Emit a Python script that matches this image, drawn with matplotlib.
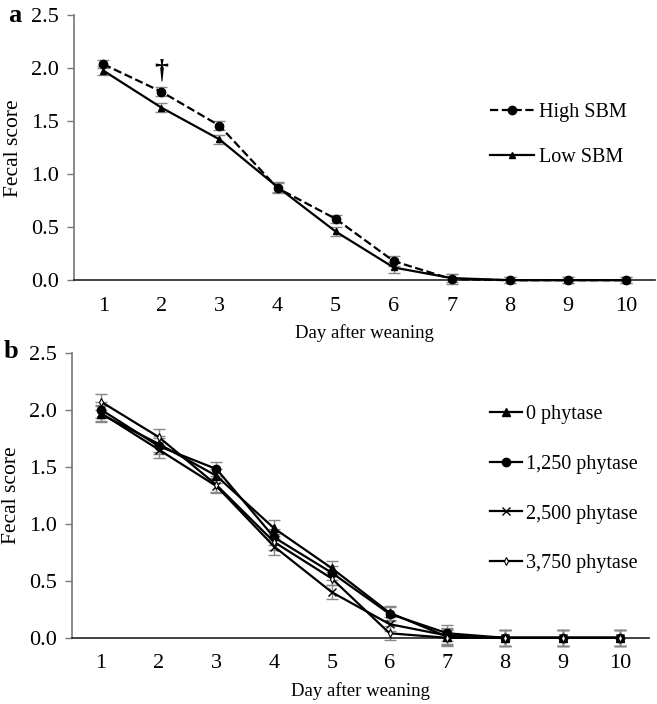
import numpy as np
import matplotlib
matplotlib.use('Agg')
import matplotlib.pyplot as plt

plt.rcParams['font.family'] = ['Liberation Serif', 'DejaVu Serif']

# Panel a data
days = [1, 2, 3, 4, 5, 6, 7, 8, 9, 10]
high_sbm = [2.04, 1.78, 1.46, 0.87, 0.58, 0.18, 0.01, 0.0, 0.0, 0.0]
high_sbm_err = [0.04, 0.04, 0.04, 0.05, 0.04, 0.05, 0.05, 0.03, 0.03, 0.03]
low_sbm = [1.98, 1.63, 1.33, 0.88, 0.46, 0.12, 0.02, 0.0, 0.0, 0.0]
low_sbm_err = [0.04, 0.04, 0.04, 0.05, 0.04, 0.05, 0.04, 0.03, 0.03, 0.03]

# Panel b data
phy_labels = ['0 phytase', '1,250 phytase', '2,500 phytase', '3,750 phytase']
phy_markers = ['^', 'o', 'x', 'd']
phy_0 = [1.96, 1.70, 1.42, 0.96, 0.61, 0.22, 0.01, 0.0, 0.0, 0.0]
phy_1250 = [2.00, 1.68, 1.48, 0.88, 0.57, 0.21, 0.04, 0.0, 0.0, 0.0]
phy_2500 = [1.97, 1.65, 1.33, 0.80, 0.40, 0.12, 0.02, 0.0, 0.0, 0.0]
phy_3750 = [2.07, 1.76, 1.34, 0.84, 0.52, 0.04, 0.00, 0.0, 0.0, 0.0]
phy_err = [0.07, 0.07, 0.06, 0.07, 0.06, 0.06, 0.07, 0.07, 0.07, 0.07]

yticks = [0.0, 0.5, 1.0, 1.5, 2.0, 2.5]
TICK_FS = 16
XLAB_FS = 13.5
YLAB_FS = 15.5
LEG_FS = 14.5

fig = plt.figure(figsize=(6.57, 7.04), dpi=100)
ax_a = fig.add_axes([0.113, 0.602, 0.884, 0.376])
ax_b = fig.add_axes([0.110, 0.094, 0.878, 0.405])


def style_axis(ax):
    ax.set_xlim(0.5, 10.5)
    ax.set_ylim(0, 2.5)
    ax.set_yticks(yticks)
    ax.set_yticklabels(['%.1f' % t for t in yticks])
    ax.set_xticks(days)
    ax.tick_params(axis='x', length=0, labelsize=TICK_FS, pad=12)
    ax.tick_params(axis='y', length=5, width=1, color='#777777', labelsize=TICK_FS, pad=6)
    for s in ['top', 'right']:
        ax.spines[s].set_visible(False)
    ax.spines['left'].set_color('#777777')
    ax.spines['left'].set_linewidth(1.2)
    ax.spines['bottom'].set_color('#222222')
    ax.spines['bottom'].set_linewidth(1.2)
    ax.set_xlabel('Day after weaning', fontsize=XLAB_FS, labelpad=6)
    ax.set_ylabel('Fecal score', fontsize=YLAB_FS, labelpad=6)


# Panel a
ax_a.errorbar(days, high_sbm, yerr=high_sbm_err, fmt='none', ecolor='#888888',
              elinewidth=1, capsize=4, zorder=1, clip_on=False)
ax_a.errorbar(days, low_sbm, yerr=low_sbm_err, fmt='none', ecolor='#888888',
              elinewidth=1, capsize=4, zorder=1, clip_on=False)
ax_a.plot(days, high_sbm, '--', color='black', marker='o', markersize=6, lw=1.6,
          label='High SBM', zorder=3, clip_on=False)
ax_a.plot(days, low_sbm, '-', color='black', marker='^', markersize=5, lw=1.6,
          label='Low SBM', zorder=3, clip_on=False)
ax_a.text(2, 1.98, '†', ha='center', va='center', fontsize=20, fontweight='bold')
style_axis(ax_a)
ax_a.legend(loc='upper left', bbox_to_anchor=(0.716, 0.67), frameon=False,
            fontsize=LEG_FS, handlelength=2.2, handletextpad=0.25, labelspacing=1.3,
            borderpad=0, borderaxespad=0)
fig.text(0.012, 0.978, 'a', fontsize=19, fontweight='bold', va='center')

# Panel b
phy_series = [phy_0, phy_1250, phy_2500, phy_3750]
for vals in phy_series:
    ax_b.errorbar(days, vals, yerr=phy_err, fmt='none', ecolor='#888888',
                  elinewidth=1, capsize=4, zorder=1, clip_on=False)
for vals, lab, mk in zip(phy_series, phy_labels, phy_markers):
    if mk == 'd':
        ax_b.plot(days, vals, '-', color='black', marker=mk, markersize=4, lw=1.6,
                  markerfacecolor='white', markeredgewidth=0.8, label=lab,
                  zorder=3, clip_on=False)
    else:
        ax_b.plot(days, vals, '-', color='black', marker=mk, markersize=6,
                  lw=1.6, label=lab, zorder=3, clip_on=False)
style_axis(ax_b)
ax_b.legend(loc='upper left', bbox_to_anchor=(0.724, 0.818), frameon=False,
            fontsize=LEG_FS, handlelength=1.6, handletextpad=0.2, labelspacing=1.53,
            borderpad=0, borderaxespad=0)
fig.text(0.006, 0.5, 'b', fontsize=19, fontweight='bold', va='center')

fig.savefig('out.png', dpi=100)
